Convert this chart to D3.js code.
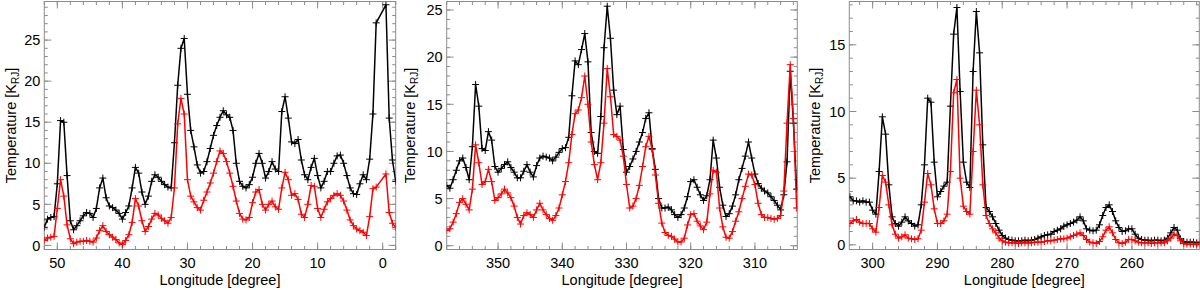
<!DOCTYPE html>
<html>
<head>
<meta charset="utf-8">
<script src="https://cdn.jsdelivr.net/npm/d3@7"></script>
<style>
  body { margin: 0; background: #fff; }
  svg { display: block; font-family: "Liberation Sans", Arial, sans-serif; }
</style>
</head>
<body>
<svg id="chart" width="1200" height="290"></svg>
<script>
// longitude grid: every panel is sampled every 0.5 degree, descending
let lonStep = 0.5;
let p1LonStart = 52;
let p2LonStart = 358;
let p3LonStart = 303.5;

// panel 1 (52 .. -2 deg), null = no sample (line jumps over)
let p1Black = [2.2,3.2,3.4,3.5,7.5,15.2,15.0,8.5,3.0,1.9,2.4,3.0,3.6,4.0,3.9,3.4,4.5,7.0,8.2,5.8,
  4.8,4.6,4.3,3.9,3.2,4.0,4.8,7.0,9.5,8.8,6.5,5.0,6.0,7.8,8.6,8.3,7.8,7.4,7.1,7.0,
  12.5,19.5,24.0,25.2,18.4,14.0,12.0,9.8,8.8,9.0,10.2,11.8,13.4,14.6,15.6,16.4,15.9,15.6,14.0,10.0,
  7.8,7.2,7.0,7.4,8.3,10.0,11.2,10.0,8.2,9.0,10.2,9.3,9.0,16.3,18.1,15.5,12.6,12.4,12.9,10.4,
  8.6,8.0,9.5,10.6,8.5,7.0,7.8,9.0,9.0,10.0,10.9,11.0,10.0,8.5,7.0,6.3,6.2,7.5,8.6,8.0,
  10.5,16.0,27.1,null,null,29.3,15.5,10.4,7.8];
let p1Red = [0.6,0.9,1.0,1.1,4.5,8.0,6.0,2.5,0.8,0.2,0.4,0.5,0.5,0.6,0.5,0.4,0.9,1.8,2.4,1.7,
  1.3,1.0,0.7,0.3,0.1,0.6,1.3,2.8,5.7,4.8,3.0,1.7,2.3,3.2,3.9,3.7,3.3,3.0,2.7,3.4,
  7.0,14.8,17.9,16.0,8.0,6.0,5.3,4.6,4.3,5.5,6.5,7.6,8.8,10.2,11.5,11.2,10.2,8.8,7.2,5.4,
  3.9,3.2,3.1,3.4,5.2,6.5,6.8,5.0,4.3,5.0,5.4,4.7,4.4,7.0,8.9,8.0,6.1,6.3,5.6,3.8,
  3.4,5.0,7.3,7.2,4.5,3.4,4.4,5.3,5.7,6.1,6.3,6.1,5.4,4.3,3.1,2.4,2.0,1.8,1.6,1.2,
  3.5,6.9,7.1,null,null,8.7,4.0,2.7,2.2];

// panel 2 (358 .. 303.5 deg)
let p2Black = [6.4,6.1,7.0,8.0,9.0,9.3,8.3,7.0,10.5,17.1,14.8,10.3,10.1,12.1,11.2,8.4,7.8,8.2,8.6,8.9,
  8.3,7.8,7.2,7.2,7.9,8.6,7.8,7.3,8.5,9.3,9.5,9.4,9.3,9.0,9.4,9.9,10.3,10.4,11.5,15.9,
  19.6,19.2,20.8,22.5,19.5,12.0,10.0,9.8,13.7,21.0,25.4,22.0,16.5,13.9,14.8,10.2,7.8,8.4,9.2,10.0,
  11.0,12.0,13.5,14.1,10.3,8.1,5.0,4.0,4.0,4.1,3.8,3.3,3.0,3.3,4.0,5.2,6.8,7.0,6.2,5.4,
  4.8,5.3,7.0,11.2,9.3,6.2,4.3,3.1,3.4,4.2,5.4,7.0,8.2,9.5,11.0,9.3,7.6,6.6,6.1,5.8,
  5.6,5.2,4.8,4.3,3.8,5.4,8.9,18.5,13.0,6.0];
let p2Red = [1.6,1.8,2.5,3.4,4.6,5.0,4.4,3.8,6.0,10.7,8.8,6.5,6.8,8.1,6.8,4.8,5.1,5.5,6.0,5.6,
  5.1,4.2,3.0,2.3,3.2,3.5,3.3,3.0,3.8,4.5,3.8,3.3,2.9,2.7,3.2,4.0,5.4,6.8,8.8,11.8,
  14.0,14.4,15.7,18.0,15.0,11.0,8.6,7.0,8.8,13.0,18.8,15.8,11.8,11.6,11.2,9.5,6.5,4.0,4.2,5.0,
  6.4,8.4,10.5,11.6,10.2,7.5,4.5,2.4,1.4,1.1,1.0,0.7,0.4,0.4,0.8,2.2,3.3,3.4,2.6,2.1,
  1.7,2.5,5.5,8.0,7.8,4.0,2.0,0.9,0.8,1.5,2.6,3.6,5.0,6.3,7.6,7.5,6.5,4.5,3.3,3.0,
  3.0,2.9,2.8,2.9,3.2,5.8,13.0,19.2,13.5,4.0];

// panel 3 (303.5 .. 249.5 deg)
let p3Black = [3.6,3.3,3.3,3.2,3.3,3.2,3.2,2.6,2.3,5.5,9.6,8.3,4.5,2.1,1.6,1.4,1.7,2.1,1.8,1.6,
  1.4,1.5,3.0,6.0,11.0,10.7,6.2,3.6,4.0,4.4,4.7,10.4,15.8,17.8,11.5,6.2,4.7,4.3,13.0,17.5,
  14.4,7.5,2.8,2.5,2.1,1.6,1.1,0.7,0.5,0.4,0.35,0.3,0.3,0.3,0.35,0.3,0.35,0.4,0.5,0.6,
  0.7,0.75,0.8,1.0,1.1,1.2,1.4,1.5,1.6,1.7,1.85,2.1,1.8,1.2,1.1,1.05,1.1,1.5,2.2,2.8,
  3.0,2.5,1.8,1.3,1.0,1.05,1.2,1.2,0.8,0.5,0.4,0.35,0.35,0.3,0.35,0.35,0.3,0.35,0.5,0.9,
  1.3,1.1,0.45,0.25,0.2,0.2,0.2,0.15,0.2];
let p3Red = [1.6,1.8,1.9,1.7,1.6,1.6,1.6,1.2,0.95,2.8,5.2,4.7,3.0,1.5,0.8,0.5,0.6,0.75,0.5,0.45,
  0.4,0.45,1.1,3.2,5.35,4.5,2.7,1.6,1.6,1.8,2.3,5.5,11.4,12.4,5.0,2.9,2.5,2.3,7.0,11.6,
  9.0,4.5,2.2,1.6,1.2,0.9,0.5,0.3,0.2,0.15,0.15,0.15,0.1,0.15,0.15,0.15,0.15,0.2,0.2,0.2,
  0.25,0.3,0.3,0.35,0.4,0.45,0.45,0.5,0.6,0.7,0.8,0.9,0.7,0.4,0.2,0.15,0.1,0.25,0.6,1.1,
  1.35,0.9,0.4,0.15,0.1,0.2,0.4,0.4,0.3,0.2,0.15,0.15,0.15,0.1,0.15,0.15,0.15,0.15,0.3,0.5,
  0.8,0.7,0.3,0.1,0.05,0.05,0.05,0.05,0.05];

// tick labels
let p1XTicks = [50, 40, 30, 20, 10, 0];
let p2XTicks = [350, 340, 330, 320, 310];
let p3XTicks = [300, 290, 280, 270, 260];
let p1YTicks = [0, 5, 10, 15, 20, 25];
let p2YTicks = [0, 5, 10, 15, 20, 25];
let p3YTicks = [0, 5, 10, 15];

let plotTop = 1.5, plotBottom = 249.5;
let axisColor = "#8c8c8c";

let panels = [
  {left: 44.3, right: 395.7, xDom: [52, -2], yDom: [-0.5, 29.7], lon0: p1LonStart,
   black: p1Black, red: p1Red, xTicks: p1XTicks, yTicks: p1YTicks, titleX: 16},
  {left: 446.7, right: 797.3, xDom: [358, 303.4], yDom: [-0.4, 25.9], lon0: p2LonStart,
   black: p2Black, red: p2Red, xTicks: p2XTicks, yTicks: p2YTicks, titleX: 415},
  {left: 849.3, right: 1199.3, xDom: [303.6, 249.6], yDom: [-0.35, 18.25], lon0: p3LonStart,
   black: p3Black, red: p3Red, xTicks: p3XTicks, yTicks: p3YTicks, titleX: 820}
];

let svg = d3.select("#chart");

panels.forEach((p, k) => {
  let x = d3.scaleLinear(p.xDom, [p.left, p.right]);
  let y = d3.scaleLinear(p.yDom, [plotBottom, plotTop]);
  let g = svg.append("g");

  // frame
  g.append("rect")
    .attr("x", p.left).attr("y", plotTop)
    .attr("width", p.right - p.left).attr("height", plotBottom - plotTop)
    .attr("fill", "none").attr("stroke", axisColor).attr("stroke-width", 1);

  // inward ticks on all four sides
  let xLo = Math.ceil(Math.min(...p.xDom)), xHi = Math.floor(Math.max(...p.xDom));
  let xMinor = d3.range(xLo + (xLo % 2 !== 0 ? 1 : 0), xHi + 1, 2);
  let yMinor = d3.range(Math.ceil(p.yDom[0]), Math.floor(p.yDom[1]) + 1, 1);
  let ticks = g.append("g").attr("stroke", axisColor).attr("stroke-width", 1);
  let xt = (vals, len) => vals.forEach(v => {
    let px = x(v);
    ticks.append("line").attr("x1", px).attr("x2", px).attr("y1", plotBottom).attr("y2", plotBottom - len);
    ticks.append("line").attr("x1", px).attr("x2", px).attr("y1", plotTop).attr("y2", plotTop + len);
  });
  let yt = (vals, len) => vals.forEach(v => {
    let py = y(v);
    ticks.append("line").attr("x1", p.left).attr("x2", p.left + len).attr("y1", py).attr("y2", py);
    ticks.append("line").attr("x1", p.right).attr("x2", p.right - len).attr("y1", py).attr("y2", py);
  });
  xt(xMinor, 3.5);
  xt(p.xTicks, 7);
  yt(yMinor, 3.5);
  yt(p.yTicks, 7);

  // tick labels
  g.append("g").attr("font-size", 14.5).attr("text-anchor", "middle")
    .selectAll("text").data(p.xTicks).join("text")
      .attr("x", d => x(d)).attr("y", 267.5).text(d => d);
  g.append("g").attr("font-size", 14.5).attr("text-anchor", "end")
    .selectAll("text").data(p.yTicks).join("text")
      .attr("x", p.left - 4).attr("y", d => y(d)).attr("dy", "0.36em").text(d => d);

  // axis titles
  g.append("text")
    .attr("x", (p.left + p.right) / 2).attr("y", 285)
    .attr("font-size", 14.5).attr("text-anchor", "middle")
    .text("Longitude [degree]");
  let yt2 = g.append("text")
    .attr("transform", `translate(${p.titleX},${(plotTop + plotBottom) / 2}) rotate(-90)`)
    .attr("font-size", 14.5).attr("text-anchor", "middle");
  yt2.append("tspan").text("Temperature [K");
  yt2.append("tspan").attr("font-size", 10).attr("dy", 3).text("RJ");
  yt2.append("tspan").attr("dy", -3).text("]");

  // series
  let clipId = "clip" + k;
  svg.append("clipPath").attr("id", clipId).append("rect")
    .attr("x", p.left).attr("y", plotTop)
    .attr("width", p.right - p.left).attr("height", plotBottom - plotTop);
  let plot = g.append("g").attr("clip-path", `url(#${clipId})`);

  let line = d3.line().x(d => x(d.lon)).y(d => y(d.v));
  [[p.black, "#000000"], [p.red, "#ff0000"]].forEach(([vals, col]) => {
    let pts = vals.map((v, i) => ({lon: p.lon0 - i * lonStep, v}))
      .filter(d => d.v != null);
    plot.append("path")
      .attr("d", line(pts))
      .attr("fill", "none").attr("stroke", col).attr("stroke-width", 1.5)
      .attr("stroke-linejoin", "round");
    plot.append("g").attr("stroke", col).attr("stroke-width", 1)
      .selectAll("path").data(pts).join("path")
        .attr("transform", d => `translate(${x(d.lon)},${y(d.v)})`)
        .attr("d", "M-3.5,0H3.5M0,-3.5V3.5");
  });
});
</script>
</body>
</html>
